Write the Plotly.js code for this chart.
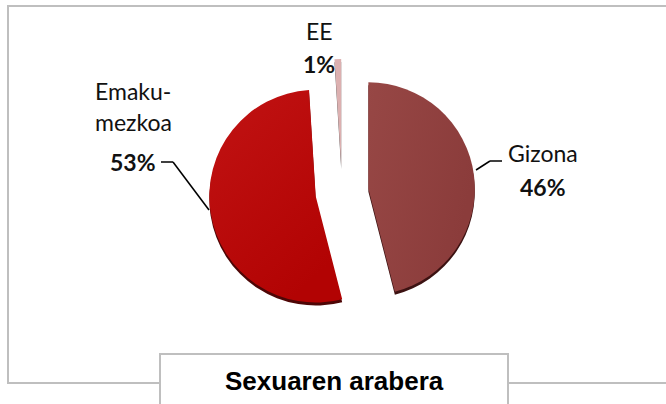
<!DOCTYPE html>
<html>
<head>
<meta charset="utf-8">
<script src="https://cdn.plot.ly/plotly-3.0.1.min.js"></script>
<style>html,body{margin:0;padding:0;background:#fff}#c{width:666px;height:404px}</style>
</head>
<body>
<div id="c"></div>
<script>
const categories = ["Gizona", "Emakumezkoa", "EE"];
const values = [46, 53, 1];
const percentLabels = ["46%", "53%", "1%"];
const sliceColors = ["#934341", "#bb0d0d", "#dcb0b0"];
const shadowColors = ["#3c1212", "#4e0606", "#555555"];
const pulls = [0.25, 0.25, 0.25];
const titleText = "Sexuaren arabera";

const W = 666, H = 404;
const px = x => x / W;
const py = y => 1 - y / H;
const FONT = 'Lato, "Open Sans", sans-serif';

function pie(colors, cx, cy) {
  const R = 133;
  return {
    type: "pie", labels: categories, values: values, sort: false,
    direction: "clockwise", rotation: 0, pull: pulls, textinfo: "none",
    hoverinfo: "skip", showlegend: false,
    marker: {colors: colors, line: {width: 0}},
    domain: {x: [px(cx - R), px(cx + R)], y: [py(cy + R), py(cy - R)]}
  };
}

function label(text, x, y, bold) {
  return {
    text: bold ? "<b>" + text + "</b>" : text,
    xref: "paper", yref: "paper", x: px(x), y: py(y),
    xanchor: "center", yanchor: "middle", showarrow: false,
    font: {family: FONT, size: 23, color: "#111111"}
  };
}
function line(x0, y0, x1, y1) {
  return {type: "line", xref: "paper", yref: "paper", x0: px(x0), y0: py(y0), x1: px(x1), y1: py(y1),
          line: {color: "#000000", width: 1.5}};
}
const border = {color: "#bfbfbf", width: 2};

const layout = {
  width: W, height: H, margin: {l: 0, r: 0, t: 0, b: 0},
  paper_bgcolor: "#ffffff", showlegend: false,
  shapes: [
    {type: "rect", layer: "below", xref: "paper", yref: "paper", x0: px(8), y0: py(383), x1: px(680), y1: py(6),
     line: border, fillcolor: "rgba(0,0,0,0)"},
    line(476, 170, 490, 161), line(490, 161, 502, 161),
    line(161, 162, 173, 162), line(173, 162, 209, 210),
    {type: "rect", xref: "paper", yref: "paper", x0: px(160), y0: py(420), x1: px(508), y1: py(354),
     line: border, fillcolor: "#ffffff"}
  ],
  annotations: [
    label(categories[0], 543, 153), label(percentLabels[0], 543, 187, true),
    label("Emaku-", 133, 91), label("mezkoa", 133, 122), label(percentLabels[1], 133, 162, true),
    label(categories[2], 319, 31), label(percentLabels[2], 319, 64, true),
    {text: "<b>" + titleText + "</b>", xref: "paper", yref: "paper", x: px(334), y: py(381),
     xanchor: "center", yanchor: "middle", showarrow: false,
     font: {family: '"Liberation Sans", Arial, sans-serif', size: 26, color: "#000000"}}
  ]
};

Plotly.newPlot("c", [pie(shadowColors, 342, 195), pie(sliceColors, 342, 192)], layout,
  {staticPlot: true, displayModeBar: false}).then(function () {
  // Subtle shading on the slices, as in the reference
  const svg = document.querySelector("#c .main-svg");
  const NS = "http://www.w3.org/2000/svg";
  const defs = document.createElementNS(NS, "defs");
  const grads = [["g0", "#974745", "#8b3c3b", 0, 0, 1, 0.4], ["g1", "#c11313", "#b20303", 0, 0, 0.6, 1], ["g2", "#dcb0b0", "#dcb0b0", 0, 0, 0, 1]];
  grads.forEach(function (g) {
    const lg = document.createElementNS(NS, "linearGradient");
    lg.setAttribute("id", g[0]);
    ["x1", "y1", "x2", "y2"].forEach(function (k, i) { lg.setAttribute(k, g[3 + i]); });
    [[0, g[1]], [1, g[2]]].forEach(function (s) {
      const st = document.createElementNS(NS, "stop");
      st.setAttribute("offset", s[0]);
      st.setAttribute("stop-color", s[1]);
      lg.appendChild(st);
    });
    defs.appendChild(lg);
  });
  svg.appendChild(defs);
  const traces = document.querySelectorAll("#c .pielayer .trace");
  traces[traces.length - 1].querySelectorAll(".slice path.surface").forEach(function (p, i) {
    p.style.fill = "url(#g" + i + ")";
  });
});
</script>
</body>
</html>
